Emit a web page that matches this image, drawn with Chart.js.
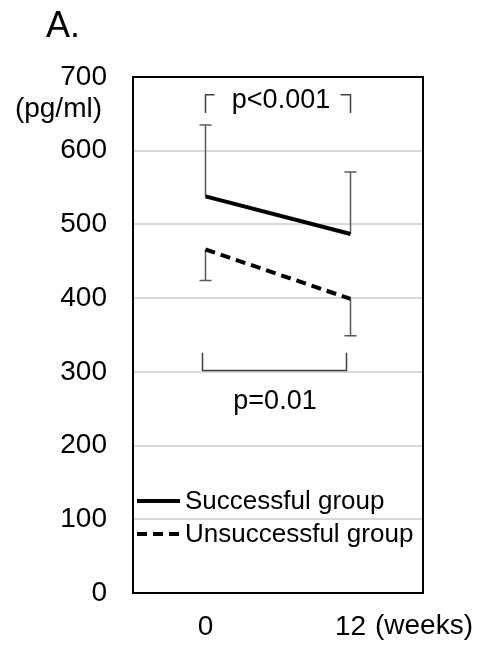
<!DOCTYPE html>
<html>
<head>
<meta charset="utf-8">
<script src="https://cdn.jsdelivr.net/npm/chart.js@4.4.0/dist/chart.umd.min.js"></script>
<style>
  html, body { margin: 0; padding: 0; background: #fff; }
  #wrap { width: 481px; height: 650px; position: relative; }
</style>
</head>
<body>
<div id="wrap"><canvas id="myChart"></canvas></div>
<script>
// data
const weeks = ['0', '12']
const successMean = [538, 487]
const successUpper = [635, 571]
const unsuccessMean = [466, 399]
const unsuccessLower = [424, 349]
const seriesNames = ['Successful group', 'Unsuccessful group']
const yTicks = [0, 100, 200, 300, 400, 500, 600, 700]

const FONT = '"Liberation Sans", Arial, sans-serif'

// p-value brackets: [value of bar, value of bracket tips, label]
const topBracket = [676, 651, 'p<0.001']
const bottomBracket = [302, 326, 'p=0.01']

const extras = {
  id: 'extras',
  beforeDatasetsDraw(chart) {
    const ctx = chart.ctx
    const x = chart.scales.x
    const y = chart.scales.y
    ctx.save()
    ctx.strokeStyle = '#595959'
    ctx.lineWidth = 1.5
    function bar(i, from, to) {
      const px = x.getPixelForValue(i)
      ctx.beginPath()
      ctx.moveTo(px, y.getPixelForValue(from))
      ctx.lineTo(px, y.getPixelForValue(to))
      ctx.moveTo(px - 6, y.getPixelForValue(to))
      ctx.lineTo(px + 6, y.getPixelForValue(to))
      ctx.stroke()
    }
    for (let i = 0; i < weeks.length; i++) {
      bar(i, successMean[i], successUpper[i])
      bar(i, unsuccessMean[i], unsuccessLower[i])
    }
    ctx.restore()
  },
  afterDraw(chart) {
    const ctx = chart.ctx
    const a = chart.chartArea
    const x = chart.scales.x
    const y = chart.scales.y
    ctx.save()
    // frame
    ctx.strokeStyle = '#000'
    ctx.lineWidth = 2
    ctx.strokeRect(a.left, a.top, a.right - a.left, a.bottom - a.top)

    const x0 = x.getPixelForValue(0)
    const x1 = x.getPixelForValue(1)

    // top bracket
    ctx.strokeStyle = '#404040'
    ctx.lineWidth = 1.5
    let yb = y.getPixelForValue(topBracket[0])
    let yt = y.getPixelForValue(topBracket[1])
    ctx.beginPath()
    ctx.moveTo(x0, yt); ctx.lineTo(x0, yb); ctx.lineTo(x0 + 9, yb)
    ctx.moveTo(x1 - 10, yb); ctx.lineTo(x1, yb); ctx.lineTo(x1, yt)
    ctx.stroke()
    ctx.fillStyle = '#000'
    ctx.font = '27px ' + FONT
    ctx.textAlign = 'center'
    ctx.textBaseline = 'middle'
    ctx.fillText(topBracket[2], (x0 + x1) / 2 + 3, yb + 6)

    // bottom bracket
    yb = y.getPixelForValue(bottomBracket[0])
    yt = y.getPixelForValue(bottomBracket[1])
    ctx.beginPath()
    ctx.moveTo(x0 - 3, yt); ctx.lineTo(x0 - 3, yb); ctx.lineTo(x1 - 4, yb); ctx.lineTo(x1 - 4, yt)
    ctx.stroke()
    ctx.fillText(bottomBracket[2], (x0 + x1) / 2 - 3, yb + 31)

    // legend inside plot
    const ds = chart.data.datasets
    const ly = [501, 534]
    ctx.font = '26px ' + FONT
    ctx.textAlign = 'left'
    for (let i = 0; i < ds.length; i++) {
      ctx.strokeStyle = '#000'
      ctx.lineWidth = ds[i].borderWidth
      ctx.setLineDash(ds[i].borderDash || [])
      ctx.beginPath()
      ctx.moveTo(a.left + 4, ly[i]); ctx.lineTo(a.left + 47, ly[i])
      ctx.stroke()
      ctx.setLineDash([])
      ctx.fillText(ds[i].label, a.left + 52, ly[i] + 1)
    }

    // title, unit labels
    ctx.font = '36px ' + FONT
    ctx.textBaseline = 'alphabetic'
    ctx.fillText('A.', 46, 37)
    ctx.font = '28px ' + FONT
    ctx.textAlign = 'right'
    ctx.textBaseline = 'middle'
    ctx.fillText('(pg/ml)', 102, 109)
    ctx.textAlign = 'left'
    ctx.fillText('(weeks)', 375, 626)
    ctx.restore()
  }
}

new Chart(document.getElementById('myChart'), {
  type: 'line',
  data: {
    labels: weeks,
    datasets: [
      { label: seriesNames[0], data: successMean, borderColor: '#000', borderWidth: 4, pointRadius: 0, fill: false, tension: 0 },
      { label: seriesNames[1], data: unsuccessMean, borderColor: '#000', borderWidth: 4, borderDash: [10, 6], pointRadius: 0, fill: false, tension: 0 }
    ]
  },
  options: {
    responsive: true,
    maintainAspectRatio: false,
    animation: false,
    layout: { padding: { left: 0, right: 58, top: 77, bottom: 0 } },
    plugins: { legend: { display: false }, tooltip: { enabled: false } },
    scales: {
      x: {
        offset: true,
        grid: { display: false },
        border: { display: false },
        ticks: { color: '#000', font: { family: FONT, size: 28 }, padding: 9, maxRotation: 0,
          callback: (v, i) => weeks[i] },
        afterFit: (s) => { s.height = 57 }
      },
      y: {
        min: 0, max: 700,
        afterBuildTicks: (s) => { s.ticks = yTicks.map(v => ({ value: v })) },
        grid: { color: '#d9d9d9', lineWidth: 2, drawTicks: false },
        border: { display: false },
        ticks: { color: '#000', font: { family: FONT, size: 28 }, padding: 26 },
        afterFit: (s) => { s.width = 133 }
      }
    }
  },
  plugins: [extras]
})
</script>
</body>
</html>
